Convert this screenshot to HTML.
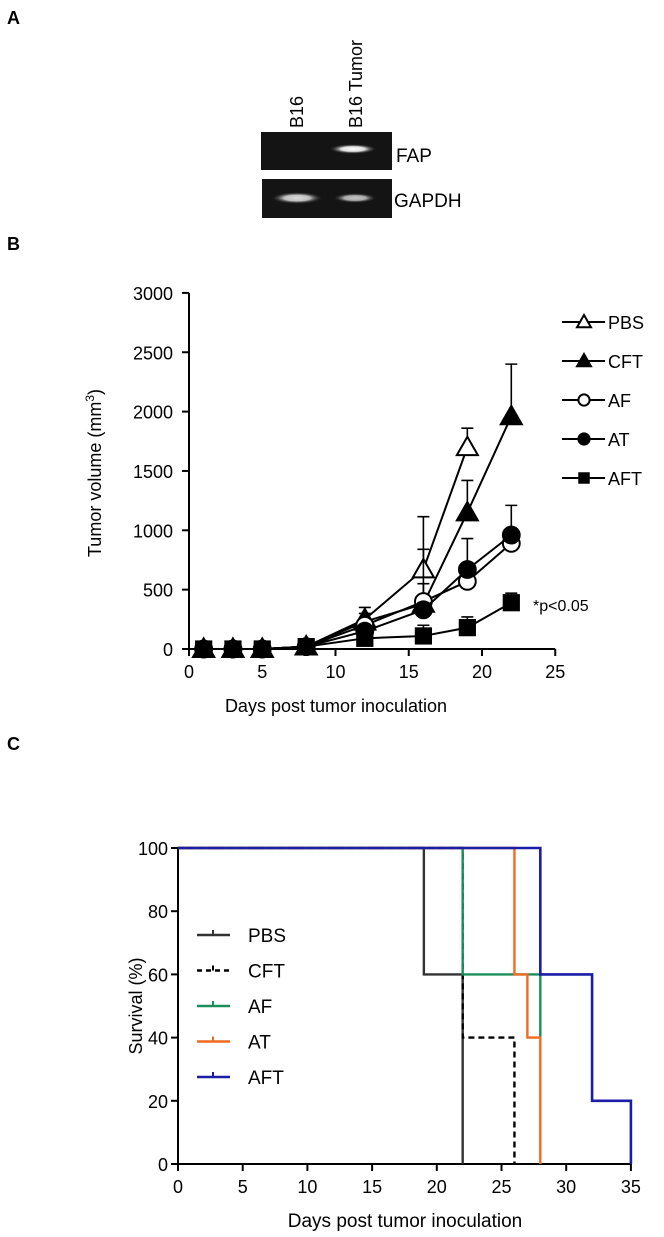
<!DOCTYPE html>
<html><head><meta charset="utf-8"><style>
body{margin:0;background:#fff;}
svg{display:block;font-family:"Liberation Sans",Arial,sans-serif;}
</style></head><body>
<svg id="fig" width="664" height="1237" viewBox="0 0 664 1237">
<text x="7" y="24" font-size="18" font-weight="bold">A</text>
<text x="7" y="250" font-size="18" font-weight="bold">B</text>
<text x="7" y="750" font-size="18" font-weight="bold">C</text>
<defs>
<radialGradient id="band" cx="50%" cy="50%" r="50%"><stop offset="0" stop-color="#fff"/><stop offset="0.5" stop-color="#ddd"/><stop offset="1" stop-color="#111" stop-opacity="0"/></radialGradient>
</defs>
<g>
<text transform="translate(303,128) rotate(-90)" font-size="18">B16</text>
<text transform="translate(362,128) rotate(-90)" font-size="18">B16 Tumor</text>
<rect x="261" y="132" width="131" height="38" fill="#141414"/>
<ellipse cx="353" cy="149" rx="24" ry="5" fill="url(#band)"/>
<rect x="262" y="179" width="130" height="39" fill="#141414"/>
<ellipse cx="297" cy="198" rx="26" ry="6" fill="url(#band)" opacity="0.85"/>
<ellipse cx="355" cy="198" rx="22" ry="5" fill="url(#band)" opacity="0.75"/>
<text x="396" y="162" font-size="19">FAP</text>
<text x="394" y="207" font-size="19">GAPDH</text>
</g>
<g id="chartB"></g>
<g id="chartC"></g>
</svg>
<script>
const days=[1,3,5,8,12,16,19,22];
const pbsVals=[0,0,0,20,250,670,1700];
const pbsErr=[0,0,0,0,100,445,160];
const cftVals=[0,0,0,20,230,380,1150,1960];
const cftErr=[0,0,0,0,70,460,270,440];
const afVals=[0,0,0,20,200,400,570,890];
const afErr=[0,0,0,0,60,150,0,0];
const atVals=[0,0,0,20,150,330,670,960];
const atErr=[0,0,0,0,50,60,260,250];
const aftVals=[0,0,0,20,90,110,180,390];
const aftErr=[0,0,0,0,0,90,90,80];
const bXTicks=[0,5,10,15,20,25];
const bYTicks=[0,500,1000,1500,2000,2500,3000];
const seriesNames=["PBS","CFT","AF","AT","AFT"];

const survTimes={PBS:[0,19,22],CFT:[0,22,26],AF:[0,22,28],AT:[0,26,27,28],AFT:[0,28,32,35]};
const survPct={PBS:[100,60,0],CFT:[100,40,0],AF:[100,60,40],AT:[100,60,40,0],AFT:[100,60,20,0]};
const cXTicks=[0,5,10,15,20,25,30,35];
const cYTicks=[0,20,40,60,80,100];

const NS="http://www.w3.org/2000/svg";
function mk(p,tag,at){const e=document.createElementNS(NS,tag);for(const k in at)e.setAttribute(k,at[k]);p.appendChild(e);return e;}

// Panel B
const gB=document.getElementById('chartB');
const bx=v=>189+v*14.65, by=v=>649-v*0.1187;
let ax=mk(gB,'path',{d:`M${bx(0)},${by(3000)}V${by(0)}H${bx(25)}`,stroke:'#000','stroke-width':2,fill:'none'});


bYTicks.forEach(t=>{mk(gB,'line',{x1:bx(0)-7,x2:bx(0),y1:by(t),y2:by(t),stroke:'#000','stroke-width':2});
 const tx=mk(gB,'text',{x:bx(0)-16,y:by(t)+7,'font-size':18,'text-anchor':'end'});tx.textContent=t;
 
 });
bXTicks.forEach(t=>{mk(gB,'line',{x1:bx(t),x2:bx(t),y1:by(0),y2:by(0)+7,stroke:'#000','stroke-width':2});
 const tx=mk(gB,'text',{x:bx(t),y:by(0)+29,'font-size':18,'text-anchor':'middle'});tx.textContent=t;
 
 });
let t1=mk(gB,'text',{x:336,y:712,'font-size':18,'text-anchor':'middle'});t1.textContent='Days post tumor inoculation';


let t2=mk(gB,'text',{transform:'translate(101,473) rotate(-90)','font-size':18,'text-anchor':'middle'});
t2.innerHTML='Tumor volume (mm<tspan font-size="12" dy="-7">3</tspan><tspan dy="7">)</tspan>';


function marker(g,type,x,y,s){
 if(type==='PBS'||type==='CFT'){return mk(g,'polygon',{points:`${x},${y-s} ${x-s*1.0},${y+s*0.75} ${x+s*1.0},${y+s*0.75}`,fill:type==='CFT'?'#000':'#fff',stroke:'#000','stroke-width':2});}
 if(type==='AF'||type==='AT'){return mk(g,'circle',{cx:x,cy:y,r:s*0.8,fill:type==='AT'?'#000':'#fff',stroke:'#000','stroke-width':2});}
 return mk(g,'rect',{x:x-s*0.82,y:y-s*0.82,width:s*1.64,height:s*1.64,fill:'#000'});
}
const bData={PBS:[pbsVals,pbsErr],CFT:[cftVals,cftErr],AF:[afVals,afErr],AT:[atVals,atErr],AFT:[aftVals,aftErr]};
seriesNames.forEach(n=>{
 const [v,e]=bData[n];const g=mk(gB,'g',{});
 
 
 v.forEach((val,i)=>{if(e[i]>0){const x=bx(days[i]);mk(g,'path',{d:`M${x},${by(val)}V${by(val+e[i])}M${x-6},${by(val+e[i])}H${x+6}`,stroke:'#000','stroke-width':1.6,fill:'none'});}});
 const line=mk(g,'polyline',{points:v.map((val,i)=>bx(days[i])+','+by(val)).join(' '),stroke:'#000','stroke-width':2,fill:'none'});
 
 
 v.forEach((val,i)=>{const m=marker(g,n,bx(days[i]),by(val),10.5);
  
  });
});
seriesNames.forEach((n,i)=>{const y=322+i*39;const g=mk(gB,'g',{});
 
 
 mk(g,'line',{x1:562,x2:605,y1:y,y2:y,stroke:'#000','stroke-width':2});marker(g,n,584,y,7);
 const tx=mk(g,'text',{x:608,y:y+7,'font-size':18});tx.textContent=n;});
let pt=mk(gB,'text',{x:533,y:611,'font-size':16});pt.textContent='*p<0.05';



// Panel C
const gC=document.getElementById('chartC');
const cx=v=>178+v*12.94, cy=v=>1164-v*3.16;
const colors={PBS:'#333',CFT:'#000',AF:'#1a8f5c',AT:'#f26a21',AFT:'#1c1ca8'};
let axc=mk(gC,'path',{d:`M${cx(0)},${cy(100)}V${cy(0)}H${cx(35)}`,stroke:'#000','stroke-width':2,fill:'none'});


cYTicks.forEach(t=>{mk(gC,'line',{x1:cx(0)-7,x2:cx(0),y1:cy(t),y2:cy(t),stroke:'#000','stroke-width':2});
 const tx=mk(gC,'text',{x:cx(0)-10,y:cy(t)+7,'font-size':18,'text-anchor':'end'});tx.textContent=t;
 
 });
cXTicks.forEach(t=>{mk(gC,'line',{x1:cx(t),x2:cx(t),y1:cy(0),y2:cy(0)+7,stroke:'#000','stroke-width':2});
 const tx=mk(gC,'text',{x:cx(t),y:cy(0)+29,'font-size':18,'text-anchor':'middle'});tx.textContent=t;
 
 });
let t3=mk(gC,'text',{x:405,y:1227,'font-size':19,'text-anchor':'middle'});t3.textContent='Days post tumor inoculation';


let t4=mk(gC,'text',{transform:'translate(142,1006) rotate(-90)','font-size':18,'text-anchor':'middle'});t4.textContent='Survival (%)';


["PBS","CFT","AF","AT","AFT"].forEach(n=>{
 const t=survTimes[n],p=survPct[n];let d=`M${cx(t[0])},${cy(p[0])}`;
 for(let i=1;i<t.length;i++){d+=`H${cx(t[i])}V${cy(p[i])}`;}
 const path=mk(gC,'path',{d:d,stroke:colors[n],'stroke-width':n==='AFT'?2.6:2.4,fill:'none','stroke-dasharray':n==='CFT'?'6,4':'none'});
 
 
});
["PBS","CFT","AF","AT","AFT"].forEach((n,i)=>{const y=935+i*35.5;const g=mk(gC,'g',{});
 
 
 mk(g,'line',{x1:197,x2:230,y1:y,y2:y,stroke:colors[n],'stroke-width':2.6,'stroke-dasharray':n==='CFT'?'5,4':'none'});
 mk(g,'line',{x1:213,x2:213,y1:y-5,y2:y,stroke:colors[n],'stroke-width':2});
 const tx=mk(g,'text',{x:248,y:y+7,'font-size':19});tx.textContent=n;});
</script>
</body></html>
